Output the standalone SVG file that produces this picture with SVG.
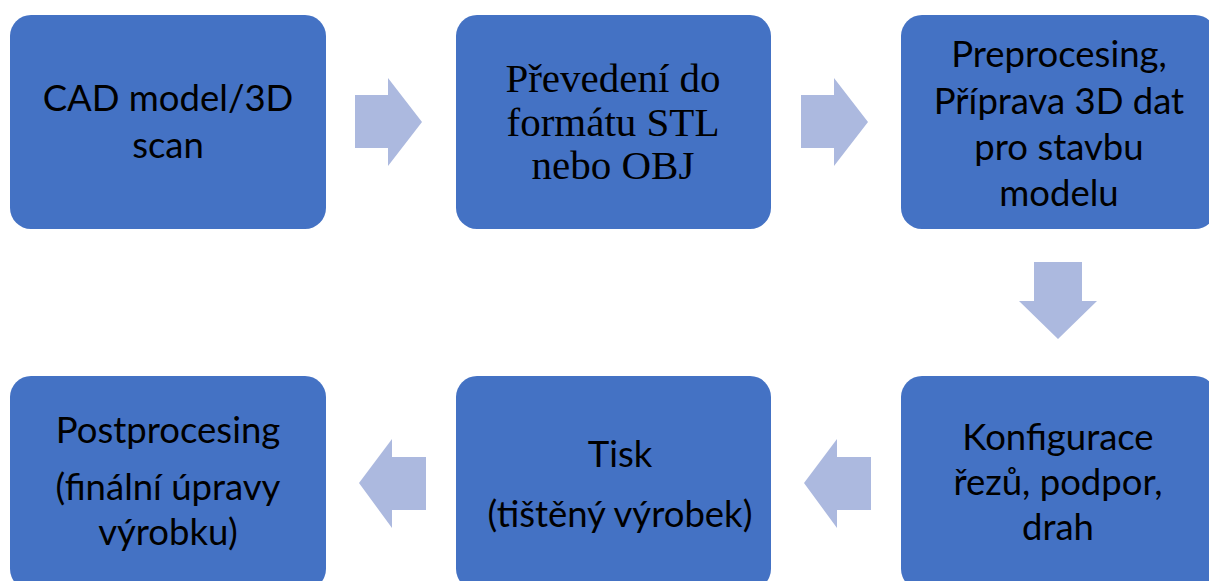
<svg xmlns="http://www.w3.org/2000/svg" width="1209" height="581" viewBox="0 0 1209 581">
  <style>
    .box { fill: #4472C4; }
    .arrow { fill: #ACB9DF; }
    .sans { font-family: Lato, "Open Sans", "Liberation Sans", sans-serif; font-size: 36.5px; fill: #000; text-anchor: middle; }
    .serif { font-family: "Liberation Serif", "DejaVu Serif", serif; font-size: 41px; fill: #000; text-anchor: middle; }
  </style>

  <!-- process steps -->
  <g id="step-cad">
    <rect class="box" x="10" y="15" width="316" height="214" rx="21"/>
    <text class="sans" x="168" y="111">CAD model/3D</text>
    <text class="sans" x="168" y="158">scan</text>
  </g>

  <g id="step-convert">
    <rect class="box" x="456" y="15" width="315" height="214" rx="21"/>
    <text class="serif" x="613" y="92">Převedení do</text>
    <text class="serif" x="613" y="136">formátu STL</text>
    <text class="serif" x="613" y="179">nebo OBJ</text>
  </g>

  <g id="step-preprocess">
    <rect class="box" x="901" y="15" width="315" height="214" rx="21"/>
    <text class="sans" x="1059" y="67">Preprocesing,</text>
    <text class="sans" x="1059" y="114">Příprava 3D dat</text>
    <text class="sans" x="1059" y="160">pro stavbu</text>
    <text class="sans" x="1059" y="206">modelu</text>
  </g>

  <g id="step-config">
    <rect class="box" x="901" y="376" width="315" height="214" rx="21"/>
    <text class="sans" x="1058" y="450">Konfigurace</text>
    <text class="sans" x="1058" y="495">řezů, podpor,</text>
    <text class="sans" x="1058" y="540">drah</text>
  </g>

  <g id="step-print">
    <rect class="box" x="456" y="376" width="315" height="214" rx="21"/>
    <text class="sans" x="620" y="467">Tisk</text>
    <text class="sans" x="620" y="527">(tištěný výrobek)</text>
  </g>

  <g id="step-postprocess">
    <rect class="box" x="10" y="376" width="316" height="214" rx="21"/>
    <text class="sans" x="168" y="443">Postprocesing</text>
    <text class="sans" x="168" y="500">(finální úpravy</text>
    <text class="sans" x="168" y="545">výrobku)</text>
  </g>

  <!-- block arrows between steps -->
  <g id="connectors">
    <polygon class="arrow" points="355,95 388,95 388,78 422,122 388,166 388,148 355,148"/>
    <polygon class="arrow" points="801,95 834,95 834,78 868,122 834,166 834,148 801,148"/>
    <polygon class="arrow" points="1034,262 1082,262 1082,301 1097,301 1058,339 1019,301 1034,301"/>
    <polygon class="arrow" points="871,457 837,457 837,439 804,483 837,528 837,510 871,510"/>
    <polygon class="arrow" points="426,457 392,457 392,439 359,483 392,528 392,510 426,510"/>
  </g>
</svg>
